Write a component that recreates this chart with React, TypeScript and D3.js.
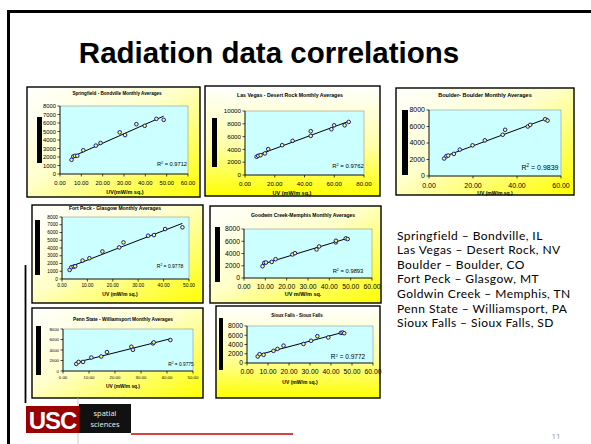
import React from "react";
import * as d3 from "d3";

// monthly averages, UV (mW/m sq.) against radiation
const springfieldUV = [5.4, 6.2, 7.0, 8.1, 10.9, 16.8, 19.0, 28.0, 30.5, 35.8, 39.7, 45.2, 48.6];
const springfieldRad = [1670, 2060, 2140, 2140, 2800, 3340, 3650, 4900, 4580, 5860, 5670, 6490, 6370];

const lasVegasUV = [7.8, 8.9, 10.5, 13.4, 15.6, 25.0, 32.0, 44.2, 44.2, 58.1, 59.9, 67.0, 69.7];
const lasVegasRad = [2850, 3000, 3100, 3370, 4040, 4660, 5340, 6840, 6110, 7150, 7770, 7770, 8290];

const boulderUV = [6.9, 7.9, 8.7, 11.3, 14.0, 19.8, 25.4, 33.5, 34.6, 44.9, 46.0, 52.8, 53.9];
const boulderRad = [2120, 2400, 2480, 2680, 3200, 3720, 4320, 5000, 5600, 6000, 6200, 6880, 6720];

const fortPeckUV = [3.0, 3.7, 4.6, 5.2, 8.1, 10.8, 15.9, 22.5, 24.2, 33.9, 36.2, 40.6, 47.4];
const fortPeckRad = [1170, 1520, 1600, 1640, 2380, 2680, 3550, 4070, 4720, 5580, 5670, 6450, 6670];

const goodwinUV = [8.7, 9.5, 10.3, 13.0, 14.8, 22.7, 23.9, 34.0, 35.2, 43.0, 43.1, 47.7, 48.6];
const goodwinRad = [1920, 2470, 2520, 2630, 3070, 3840, 4050, 4660, 5150, 5810, 6080, 6470, 6360];

const pennStateUV = [5.1, 6.0, 7.7, 10.9, 14.7, 16.9, 26.3, 26.9, 34.6, 34.9, 41.3];
const pennStateRad = [1350, 1730, 1730, 2560, 2760, 3600, 4620, 4040, 5260, 5450, 5900];

const siouxFallsUV = [5.1, 6.0, 7.9, 12.6, 14.5, 17.4, 26.9, 30.5, 33.5, 38.7, 44.7, 45.5, 46.3];
const siouxFallsRad = [1420, 1910, 1770, 2620, 3040, 3750, 4110, 4810, 5800, 5520, 6510, 6580, 6440];

const chartTitles = [
  "Springfield - Bondville Monthly Averages",
  "Las Vegas - Desert Rock Monthly Averages",
  "Boulder- Boulder Monthly Averages",
  "Fort Peck - Glasgow Monthly Averages",
  "Goodwin Creek-Memphis Monthly Averages",
  "Penn State - Williamsport Monthly Averages",
  "Sioux Falls - Sioux Falls",
];
const xTitles = [
  "UV(mW/m sq.)",
  "UV (mW/m sq.)",
  "UV (mW/m sq.)",
  "UV (mW/m sq.)",
  "UV m/W/m sq.",
  "UV (mW/m sq.)",
  "UV (mW/m sq.)",
];
const r2Values = ["0.9712", "0.9762", "0.9839", "0.9778", "0.9893", "0.9775", "0.9772"];
const xMaxes = [60, 80, 60, 50, 60, 50, 60];
const xSteps = [10, 20, 20, 10, 10, 10, 10];
const yMaxes = [8000, 10000, 8000, 8000, 8000, 8000, 8000];
const ySteps = [1000, 2000, 2000, 1000, 2000, 2000, 2000];

const stationList = [
  "Springfield – Bondville, IL",
  "Las Vegas – Desert Rock, NV",
  "Boulder – Boulder, CO",
  "Fort Peck – Glasgow, MT",
  "Goldwin Creek – Memphis, TN",
  "Penn State – Williamsport, PA",
  "Sioux Falls – Sioux Falls, SD",
];

const series = [
  [springfieldUV, springfieldRad],
  [lasVegasUV, lasVegasRad],
  [boulderUV, boulderRad],
  [fortPeckUV, fortPeckRad],
  [goodwinUV, goodwinRad],
  [pennStateUV, pennStateRad],
  [siouxFallsUV, siouxFallsRad],
];

// where each pasted excel chart sits on the slide
const layouts = [
  { box: [27, 87, 200, 197], plot: [60, 106, 188, 174], bar: [37, 117, 5, 46], tx: 117, ty: 94.5, ts: 4.6, xtx: 125, xty: 194, xts: 5.5, tick: 5.8, dy: 10.5, rx: 172, ry: 166, rs: 5.7, grad: "diag" },
  { box: [205, 86, 380, 196], plot: [245, 111, 364, 175], bar: [212, 118, 5, 49], tx: 290, ty: 97, ts: 5.2, xtx: 292, xty: 195, xts: 5.5, tick: 6.2, dy: 10.5, rx: 348, ry: 168, rs: 6, grad: "vert" },
  { box: [396, 88, 574, 195], plot: [429, 110, 561, 176], bar: [402, 110, 6, 65], tx: 485, ty: 97, ts: 5.5, xtx: 495, xty: 194.5, xts: 5, tick: 7, dy: 12, rx: 540, ry: 169.5, rs: 7, grad: "diag" },
  { box: [32, 205, 203, 303], plot: [62, 217, 189, 279], bar: [35, 220, 5, 55], tx: 115, ty: 210, ts: 5, xtx: 120, xty: 296, xts: 5, tick: 4.8, dy: 8, rx: 170, ry: 268, rs: 5, grad: "diag" },
  { box: [210, 206, 381, 303], plot: [244, 229, 372, 278], bar: [215, 227, 5, 55], tx: 303, ty: 216.5, ts: 5, xtx: 303, xty: 296, xts: 5.5, tick: 6.8, dy: 10.5, rx: 348, ry: 273, rs: 5.8, grad: "diag" },
  { box: [32, 308, 203, 398], plot: [63, 329, 193, 371], bar: [36, 326, 5, 49], tx: 123, ty: 320.5, ts: 4.8, xtx: 123, xty: 388, xts: 4.8, tick: 4.3, dy: 8, rx: 181, ry: 366, rs: 4.8, grad: "diag" },
  { box: [216, 306, 380, 398], plot: [247, 326, 373, 363], bar: [219, 318, 4, 52], tx: 297, ty: 316.5, ts: 4.5, xtx: 300, xty: 384, xts: 5, tick: 6.8, dy: 11, rx: 348, ry: 359, rs: 6.5, grad: "vert" },
];

const FONT = "'Liberation Sans', Arial, sans-serif";

const ScatterPanel = ({ idx }) => {
  const lay = layouts[idx];
  const [uv, rad] = series[idx];
  const [bx0, by0, bx1, by1] = lay.box;
  const [px0, py0, px1, py1] = lay.plot;

  const x = d3.scaleLinear().domain([0, xMaxes[idx]]).range([px0, px1]);
  const y = d3.scaleLinear().domain([0, yMaxes[idx]]).range([py1, py0]);
  const xTicks = d3.range(0, xMaxes[idx] + 1e-6, xSteps[idx]);
  const yTicks = d3.range(0, yMaxes[idx] + 1e-6, ySteps[idx]);

  // excel style linear trendline, least squares over the points
  const mx = d3.mean(uv);
  const my = d3.mean(rad);
  const slope =
    d3.sum(uv, (u, i) => (u - mx) * (rad[i] - my)) / d3.sum(uv, u => (u - mx) ** 2);
  const icpt = my - slope * mx;
  const [lo, hi] = d3.extent(uv);
  const trend = d3.line()([
    [x(lo), y(slope * lo + icpt)],
    [x(hi), y(slope * hi + icpt)],
  ]);

  const gid = "bg" + idx;
  const fmt = d3.format(".2f");

  return (
    <g>
      <defs>
        {lay.grad === "vert" ? (
          <linearGradient id={gid} x1="0" y1="0" x2="0" y2="1">
            <stop offset="0" stopColor="#ffffff" />
            <stop offset="0.55" stopColor="#ffffa8" />
            <stop offset="1" stopColor="#ffff00" />
          </linearGradient>
        ) : (
          <linearGradient id={gid} x1="0" y1="0" x2="1" y2="1">
            <stop offset="0" stopColor="#ffffff" />
            <stop offset="0.45" stopColor="#ffffcc" />
            <stop offset="1" stopColor="#ffff00" />
          </linearGradient>
        )}
      </defs>
      <rect x={bx0} y={by0} width={bx1 - bx0} height={by1 - by0} fill={`url(#${gid})`} stroke="#000" strokeWidth={1.4} />
      <text x={lay.tx} y={lay.ty} fontSize={lay.ts} fontWeight="bold" textAnchor="middle" fontFamily={FONT}>
        {chartTitles[idx]}
      </text>
      <rect x={lay.bar[0]} y={lay.bar[1]} width={lay.bar[2]} height={lay.bar[3]} fill="#000" />
      <rect x={px0} y={py0} width={px1 - px0} height={py1 - py0} fill="#ccffff" stroke="#808080" strokeWidth={0.5} />
      <line x1={px0} x2={px0} y1={py0} y2={py1} stroke="#000" strokeWidth={0.8} />
      <line x1={px0} x2={px1} y1={py1} y2={py1} stroke="#000" strokeWidth={0.8} />
      {yTicks.map(t => (
        <g key={"y" + t}>
          <line x1={px0 - 2.5} x2={px0} y1={y(t)} y2={y(t)} stroke="#000" strokeWidth={0.7} />
          <text x={px0 - 4} y={y(t) + lay.tick * 0.35} fontSize={lay.tick} textAnchor="end" fontFamily={FONT}>
            {t}
          </text>
        </g>
      ))}
      {xTicks.map(t => (
        <g key={"x" + t}>
          <line x1={x(t)} x2={x(t)} y1={py1} y2={py1 + 2.5} stroke="#000" strokeWidth={0.7} />
          <text x={x(t)} y={py1 + lay.dy} fontSize={lay.tick} textAnchor="middle" fontFamily={FONT}>
            {fmt(t)}
          </text>
        </g>
      ))}
      <path d={trend} stroke="#000" strokeWidth={1} fill="none" />
      {uv.map((u, i) => (
        <circle key={i} cx={x(u)} cy={y(rad[i])} r={1.8} fill="#ffff66" stroke="#000099" strokeWidth={0.9} />
      ))}
      <text x={lay.rx} y={lay.ry} fontSize={lay.rs} textAnchor="middle" fontFamily={FONT}>
        R<tspan dy={-lay.rs * 0.35} fontSize={lay.rs * 0.65}>2</tspan>
        <tspan dy={lay.rs * 0.35}>{" = " + r2Values[idx]}</tspan>
      </text>
      <text x={lay.xtx} y={lay.xty} fontSize={lay.xts} fontWeight="bold" textAnchor="middle" fontFamily={FONT}>
        {xTitles[idx]}
      </text>
    </g>
  );
};

export default function App() {
  return (
    <div style={{ position: "absolute", left: 0, top: 0 }}>
      <svg width={591} height={444} style={{ display: "block", background: "#fff" }}>
        {/* slide frame */}
        <line x1={8.5} x2={8.5} y1={10} y2={444} stroke="#000" strokeWidth={3} />
        <line x1={7} x2={591} y1={11.5} y2={11.5} stroke="#000" strokeWidth={3} />

        <text x={269} y={63} fontSize={29.5} fontWeight="bold" textAnchor="middle" fontFamily={FONT}>
          Radiation data correlations
        </text>

        {layouts.map((_, i) => (
          <ScatterPanel key={i} idx={i} />
        ))}

        <line x1={25.5} x2={25.5} y1={265} y2={403} stroke="#000" strokeWidth={1.8} />

        {stationList.map((s, i) => (
          <text key={s} x={397} y={239.6 + i * 14.6} fontSize={12} letterSpacing={0.45} fontFamily="Lato, 'Open Sans', sans-serif" fill="#000">
            {s}
          </text>
        ))}

        {/* footer logo */}
        <line x1={78} x2={78} y1={398} y2={444} stroke="#bbb" strokeWidth={0.8} />
        <rect x={26} y={406} width={53} height={27} fill="#9a0000" />
        <text x={52.5} y={429} fontSize={24} fontWeight="bold" textAnchor="middle" fill="#fff" fontFamily={FONT} letterSpacing={-1}>
          USC
        </text>
        <rect x={79} y={404} width={52} height={29} fill="#111" />
        <text x={105} y={416} fontSize={7.5} textAnchor="middle" fill="#eee" fontFamily="'Open Sans', sans-serif">
          spatial
        </text>
        <text x={105} y={427} fontSize={7.5} textAnchor="middle" fill="#eee" fontFamily="'Open Sans', sans-serif">
          sciences
        </text>
        <line x1={131} x2={293} y1={434} y2={434} stroke="#cc0000" strokeWidth={1.3} />
        <text x={556} y={439} fontSize={8} textAnchor="middle" fill="#999" fontFamily="'Open Sans', sans-serif">
          11
        </text>
      </svg>
    </div>
  );
}
